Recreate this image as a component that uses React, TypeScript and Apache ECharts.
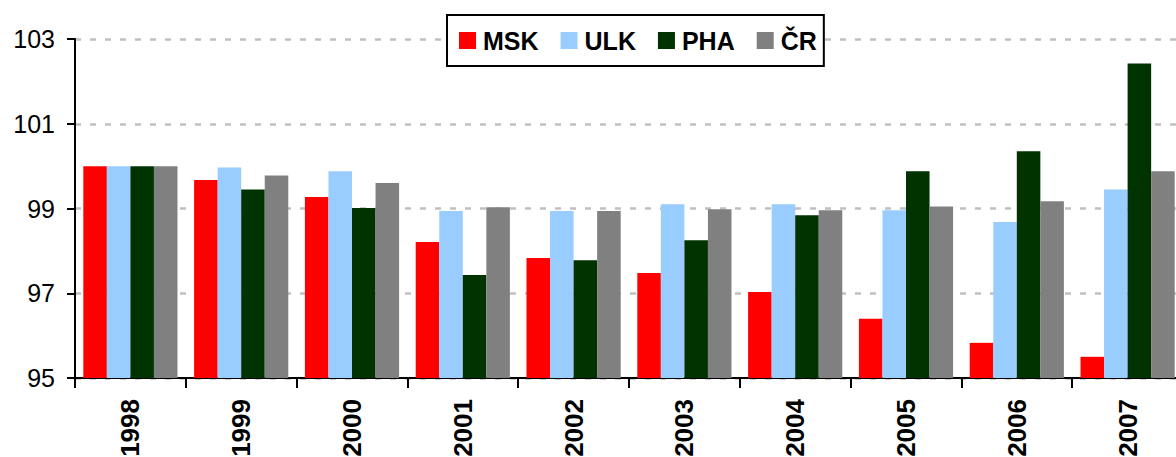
import React, { useEffect, useRef } from "react";
import * as echarts from "echarts";

const years = ["1998", "1999", "2000", "2001", "2002", "2003", "2004", "2005", "2006", "2007"];
const msk = [100, 99.67, 99.27, 98.21, 97.83, 97.48, 97.03, 96.4, 95.83, 95.5];
const ulk = [100, 99.97, 99.88, 98.94, 98.94, 99.1, 99.1, 98.96, 98.68, 99.45];
const pha = [100, 99.45, 99.01, 97.43, 97.78, 98.25, 98.84, 99.88, 100.35, 102.42];
const cr = [100, 99.78, 99.6, 99.03, 98.94, 98.98, 98.96, 99.05, 99.17, 99.88];

const FONT = "Arial, 'Liberation Sans', sans-serif";

export default function App() {
  const ref = useRef<HTMLDivElement>(null);
  useEffect(() => {
    if (!ref.current) return;
    const chart = echarts.init(ref.current, undefined, { renderer: "svg" });
    const mk = (name: string, data: number[], color: string) => ({
      name,
      type: "bar",
      data,
      barGap: "0%",
      barCategoryGap: "15%",
      itemStyle: { color },
    });
    chart.setOption({
      animation: false,
      backgroundColor: "#ffffff",
      textStyle: { fontFamily: FONT },
      grid: {
        left: 75,
        top: 39,
        width: 1108,
        bottom: 79,
        containLabel: false,
        outerBoundsMode: "none",
      },
      legend: {
        left: 447,
        top: 15,
        padding: [12, 7, 12, 12],
        itemWidth: 17,
        itemHeight: 17,
        itemGap: 22,
        backgroundColor: "#ffffff",
        borderColor: "#000000",
        borderWidth: 2,
        icon: "rect",
        textStyle: {
          fontFamily: FONT,
          fontSize: 25,
          fontWeight: "bold",
          color: "#000000",
          lineHeight: 27,
          padding: [0, 0, 0, 2],
        },
        data: ["MSK", "ULK", "PHA", "ČR"],
      },
      xAxis: {
        type: "category",
        data: years,
        axisLine: { show: true, lineStyle: { color: "#000000", width: 2 } },
        axisTick: { show: true, length: 10, lineStyle: { color: "#000000", width: 2 } },
        axisLabel: {
          rotate: 90,
          margin: 21,
          fontFamily: FONT,
          fontSize: 26,
          fontWeight: "bold",
          color: "#000000",
        },
        splitLine: { show: false },
      },
      yAxis: {
        type: "value",
        min: 95,
        max: 103,
        interval: 2,
        axisLine: { show: true, lineStyle: { color: "#000000", width: 2 } },
        axisTick: { show: true, length: 8, lineStyle: { color: "#000000", width: 2 } },
        axisLabel: { margin: 20, fontFamily: FONT, fontSize: 25, color: "#000000" },
        splitLine: { show: true, lineStyle: { color: "#C0C0C0", width: 2.5, type: [6, 9] } },
      },
      series: [
        mk("MSK", msk, "#FF0000"),
        mk("ULK", ulk, "#99CCFF"),
        mk("PHA", pha, "#003300"),
        mk("ČR", cr, "#808080"),
      ],
    });
    return () => chart.dispose();
  }, []);
  return (
    <div
      ref={ref}
      style={{ position: "fixed", left: 0, top: 0, width: 1176, height: 457, background: "#fff" }}
    />
  );
}
